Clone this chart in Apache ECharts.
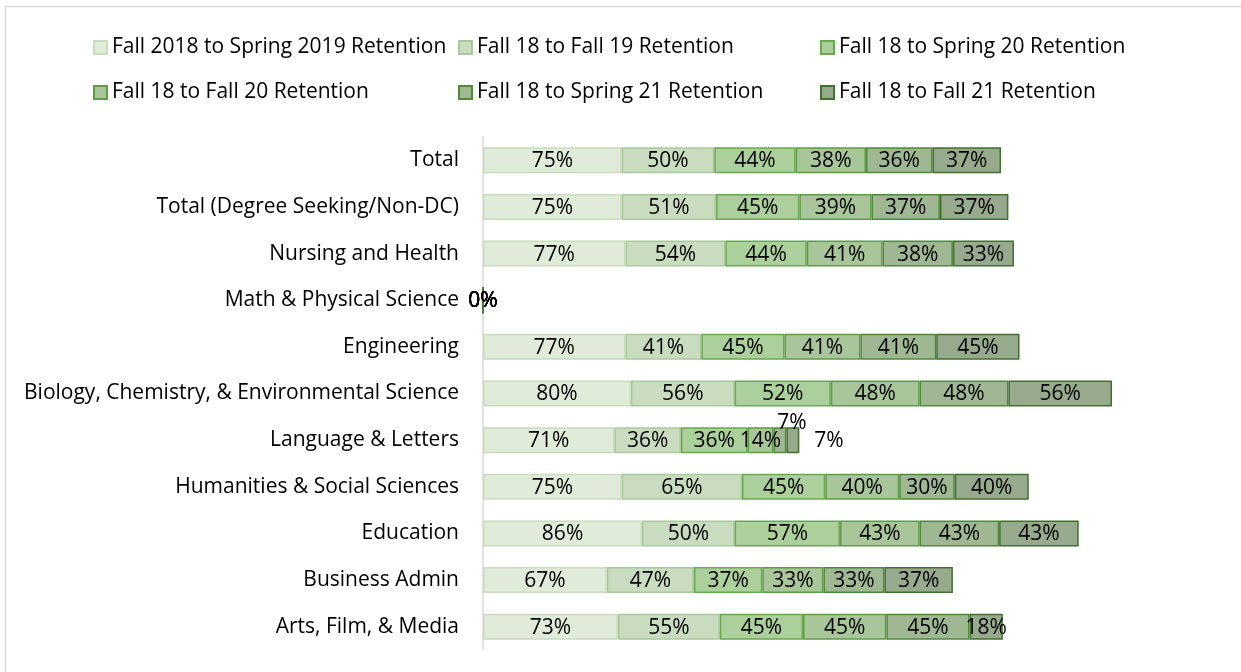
<!DOCTYPE html>
<html lang="en">
<head>
    <meta charset="utf-8">
    <script src="https://cdn.jsdelivr.net/npm/echarts@6/dist/echarts.min.js"></script>
    <style>
        html, body {
            margin: 0;
            padding: 0;
            background: #fff;
        }
        #retention_map {
            width: 1241px;
            height: 672px;
        }
    </style>
</head>
<body>
<div id="retention_map"></div>

<script>
    // 数据
    var categories = ['Total', 'Total (Degree Seeking/Non-DC)', 'Nursing and Health', 'Math & Physical Science',
        'Engineering', 'Biology, Chemistry, & Environmental Science', 'Language & Letters',
        'Humanities & Social Sciences', 'Education', 'Business Admin', 'Arts, Film, & Media'];

    var seriesNames = ['Fall 2018 to Spring 2019 Retention', 'Fall 18 to Fall 19 Retention',
        'Fall 18 to Spring 20 Retention', 'Fall 18 to Fall 20 Retention',
        'Fall 18 to Spring 21 Retention', 'Fall 18 to Fall 21 Retention'];

    var spring19 = [75, 75, 77, 0, 77, 80, 71, 75, 86, 67, 73];
    var fall19 = [50, 51, 54, 0, 41, 56, 36, 65, 50, 47, 55];
    var spring20 = [44, 45, 44, 0, 45, 52, 36, 45, 57, 37, 45];
    var fall20 = [38, 39, 41, 0, 41, 48, 14, 40, 43, 33, 45];
    var spring21 = [36, 37, 38, 0, 41, 48, 7, 30, 43, 33, 45];
    var fall21 = [37, 37, 33, 0, 45, 56, 7, 40, 43, 37, 18];

    var allValues = [spring19, fall19, spring20, fall20, spring21, fall21];

    var fills = ['#e0ebda', '#c9dcc0', '#acd09b', '#a8c69a', '#9fb893', '#98aa8e'];
    var borders = ['#c8dcbe', '#a9c99c', '#6aa84f', '#5f9c45', '#4f8a38', '#42702e'];

    var font = '"Open Sans", Lato, sans-serif';

    var myChart = echarts.init(document.getElementById('retention_map'));

    // 图例位置
    var legendPos = [[93, 37], [458, 37], [820, 37], [93, 82], [458, 82], [820, 82]];
    var legends = seriesNames.map(function (name, i) {
        return {
            data: [name],
            icon: 'rect',
            left: legendPos[i][0],
            top: legendPos[i][1],
            itemWidth: 13,
            itemHeight: 13,
            itemGap: 0,
            padding: 0,
            selectedMode: false,
            textStyle: {fontFamily: font, fontSize: 21, color: '#000'}
        };
    });

    var series = allValues.map(function (vals, i) {
        var data = vals.map(function (v, j) {
            // Language & Letters 两个 7% 标签在外面
            if (j === 6 && i === 4) {
                return {value: v, label: {position: 'top', distance: -6, offset: [12, 0]}};
            }
            if (j === 6 && i === 5) {
                return {value: v, label: {position: 'right', distance: 15}};
            }
            return v;
        });
        return {
            name: seriesNames[i],
            type: 'bar',
            stack: 'all',
            barWidth: 26,
            itemStyle: {color: fills[i], borderColor: borders[i], borderWidth: 1.5},
            label: {
                show: true,
                position: 'inside',
                formatter: '{c}%',
                fontFamily: font,
                fontSize: 21,
                color: '#000',
                offset: [0, 1]
            },
            emphasis: {disabled: true},
            data: data
        };
    });

    var option = {
        animation: false,
        backgroundColor: '#fff',
        graphic: [{
            type: 'rect',
            shape: {x: 5.5, y: 6.5, width: 1300, height: 800},
            style: {fill: 'none', stroke: '#d9d9d9', lineWidth: 1.5},
            silent: true
        }],
        legend: legends,
        grid: {left: 483, top: 137, width: 740, height: 513},
        xAxis: {
            type: 'value',
            min: 0,
            max: 400,
            show: false
        },
        yAxis: {
            type: 'category',
            inverse: true,
            data: categories,
            axisLine: {lineStyle: {color: '#d9d9d9', width: 1.5}},
            axisTick: {show: false},
            axisLabel: {margin: 24, fontFamily: font, fontSize: 21, color: '#000', padding: [4, 0, 0, 0]}
        },
        series: series
    };

    myChart.setOption(option);
</script>
</body>
</html>
